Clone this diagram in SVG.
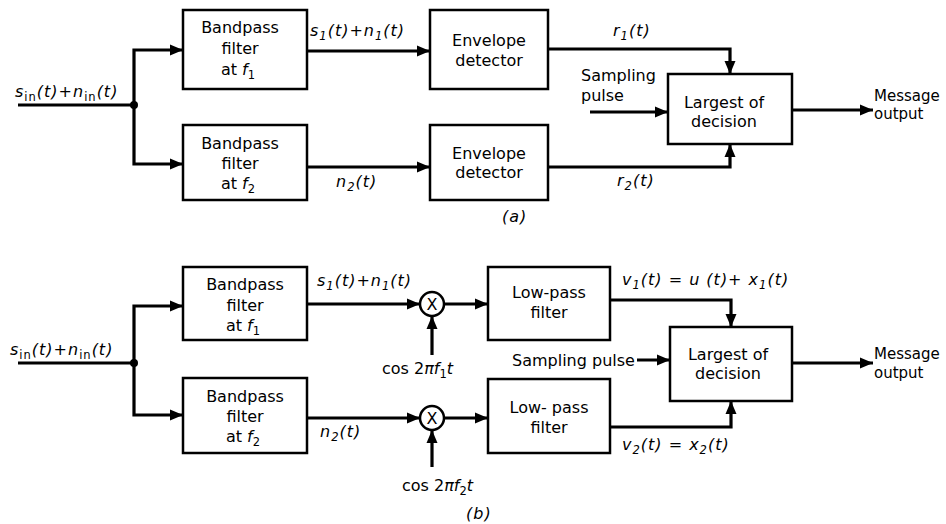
<svg xmlns="http://www.w3.org/2000/svg" width="946" height="524" viewBox="0 0 946 524">
<style>
.box{fill:#fff;stroke:#000;stroke-width:2.5}
.ln{fill:none;stroke:#000;stroke-width:3.2}
.t{font-family:"DejaVu Sans","Liberation Sans",sans-serif;font-size:16px;fill:#000}
.c{text-anchor:middle}
.m{font-family:"DejaVu Sans","Liberation Sans",sans-serif;font-size:16px;font-style:italic;fill:#000;letter-spacing:1px}
.s{font-size:11.5px}
.o{font-size:15px}
</style>
<defs>
<marker id="ah" markerUnits="userSpaceOnUse" markerWidth="14" markerHeight="12" refX="13" refY="6" orient="auto">
<path d="M0,0.5 L13,6 L0,11.5 z" fill="#000"/>
</marker>
</defs>
<rect width="946" height="524" fill="#fff"/>
<g id="connectors">
<path class="ln" d="M18,105 H134"/>
<path class="ln" d="M134,105 V50 H183" marker-end="url(#ah)"/>
<path class="ln" d="M134,105 V164 H183" marker-end="url(#ah)"/>
<path class="ln" d="M307,51 H430" marker-end="url(#ah)"/>
<path class="ln" d="M307,167 H430" marker-end="url(#ah)"/>
<path class="ln" d="M548,49 H730 V74" marker-end="url(#ah)"/>
<path class="ln" d="M548,167 H730 V144" marker-end="url(#ah)"/>
<path class="ln" d="M590,112 H668" marker-end="url(#ah)"/>
<path class="ln" d="M792,110 H873" marker-end="url(#ah)"/>
<circle cx="134" cy="105" r="4" fill="#000"/>
<path class="ln" d="M18,363 H134"/>
<path class="ln" d="M134,363 V306 H183" marker-end="url(#ah)"/>
<path class="ln" d="M134,363 V415 H183" marker-end="url(#ah)"/>
<path class="ln" d="M307,304 H420" marker-end="url(#ah)"/>
<path class="ln" d="M444,304 H488" marker-end="url(#ah)"/>
<path class="ln" d="M432,355 V316" marker-end="url(#ah)"/>
<path class="ln" d="M307,418 H420" marker-end="url(#ah)"/>
<path class="ln" d="M444,418 H488" marker-end="url(#ah)"/>
<path class="ln" d="M432,467 V430" marker-end="url(#ah)"/>
<path class="ln" d="M610,300 H731 V327" marker-end="url(#ah)"/>
<path class="ln" d="M610,427 H731 V401" marker-end="url(#ah)"/>
<path class="ln" d="M637,360 H670" marker-end="url(#ah)"/>
<path class="ln" d="M792,363 H873" marker-end="url(#ah)"/>
<circle cx="134" cy="363" r="4" fill="#000"/>
</g>
<!-- (a) -->
<g id="bpf1a"><rect class="box" x="183" y="10" width="124" height="79"/>
<text class="t c" x="240" y="33">Bandpass</text><text class="t c" x="240" y="54">filter</text><text class="t c" x="238" y="75">at <tspan font-style="italic">f</tspan><tspan class="s" dy="4">1</tspan></text></g>
<g id="bpf2a"><rect class="box" x="183" y="125" width="124" height="75"/>
<text class="t c" x="240" y="149">Bandpass</text><text class="t c" x="240" y="169">filter</text><text class="t c" x="238" y="189">at <tspan font-style="italic">f</tspan><tspan class="s" dy="4">2</tspan></text></g>
<g id="ed1a"><rect class="box" x="430" y="10" width="118" height="79"/>
<text class="t c" x="489" y="46">Envelope</text><text class="t c" x="489" y="66">detector</text></g>
<g id="ed2a"><rect class="box" x="430" y="125" width="118" height="75"/>
<text class="t c" x="489" y="159">Envelope</text><text class="t c" x="489" y="178">detector</text></g>
<g id="deca"><rect class="box" x="668" y="74" width="124" height="70"/>
<text class="t c" x="724" y="108">Largest of</text><text class="t c" x="724" y="127">decision</text></g>
<g id="labels-a">
<text class="m" x="15" y="97">s<tspan class="s" dy="4" font-style="normal">in</tspan><tspan dy="-4">(t)+n</tspan><tspan class="s" dy="4" font-style="normal">in</tspan><tspan dy="-4">(t)</tspan></text>
<text class="m" x="310" y="36">s<tspan class="s" dy="4">1</tspan><tspan dy="-4">(t)+n</tspan><tspan class="s" dy="4">1</tspan><tspan dy="-4">(t)</tspan></text>
<text class="m" x="336" y="187">n<tspan class="s" dy="4">2</tspan><tspan dy="-4">(t)</tspan></text>
<text class="m" x="613" y="36">r<tspan class="s" dy="4">1</tspan><tspan dy="-4">(t)</tspan></text>
<text class="m" x="617" y="186">r<tspan class="s" dy="4">2</tspan><tspan dy="-4">(t)</tspan></text>
<text class="t" x="581" y="81">Sampling</text><text class="t" x="581" y="101">pulse</text>
<text class="t o" x="874" y="101">Message</text><text class="t o" x="874" y="119">output</text>
<text class="m" x="502" y="222">(a)</text>
</g>
<!-- (b) -->
<g id="bpf1b"><rect class="box" x="183" y="267" width="124" height="73"/>
<text class="t c" x="245" y="290">Bandpass</text><text class="t c" x="245" y="311">filter</text><text class="t c" x="243" y="331">at <tspan font-style="italic">f</tspan><tspan class="s" dy="4">1</tspan></text></g>
<g id="bpf2b"><rect class="box" x="183" y="378" width="124" height="75"/>
<text class="t c" x="245" y="402">Bandpass</text><text class="t c" x="245" y="422">filter</text><text class="t c" x="243" y="442">at <tspan font-style="italic">f</tspan><tspan class="s" dy="4">2</tspan></text></g>
<g id="mix1"><circle cx="432" cy="304" r="12" fill="#fff" stroke="#000" stroke-width="2.5"/><text class="t c" x="432" y="310">X</text></g>
<g id="mix2"><circle cx="432" cy="418" r="12" fill="#fff" stroke="#000" stroke-width="2.5"/><text class="t c" x="432" y="424">X</text></g>
<g id="lpf1b"><rect class="box" x="488" y="267" width="122" height="73"/>
<text class="t c" x="549" y="298">Low-pass</text><text class="t c" x="549" y="318">filter</text></g>
<g id="lpf2b"><rect class="box" x="488" y="379" width="122" height="74"/>
<text class="t c" x="549" y="413">Low- pass</text><text class="t c" x="549" y="433">filter</text></g>
<g id="decb"><rect class="box" x="670" y="327" width="122" height="74"/>
<text class="t c" x="728" y="360">Largest of</text><text class="t c" x="728" y="379">decision</text></g>
<g id="labels-b">
<text class="m" x="10" y="355">s<tspan class="s" dy="4" font-style="normal">in</tspan><tspan dy="-4">(t)+n</tspan><tspan class="s" dy="4" font-style="normal">in</tspan><tspan dy="-4">(t)</tspan></text>
<text class="m" x="317" y="286">s<tspan class="s" dy="4">1</tspan><tspan dy="-4">(t)+n</tspan><tspan class="s" dy="4">1</tspan><tspan dy="-4">(t)</tspan></text>
<text class="m" x="320" y="437">n<tspan class="s" dy="4">2</tspan><tspan dy="-4">(t)</tspan></text>
<text class="t" x="382" y="374">cos 2<tspan font-style="italic">πf</tspan><tspan class="s" dy="4">1</tspan><tspan dy="-4" font-style="italic">t</tspan></text>
<text class="t" x="402" y="491">cos 2<tspan font-style="italic">πf</tspan><tspan class="s" dy="4">2</tspan><tspan dy="-4" font-style="italic">t</tspan></text>
<text class="m" x="622" y="285">v<tspan class="s" dy="4">1</tspan><tspan dy="-4">(t) = u (t)+ x</tspan><tspan class="s" dy="4">1</tspan><tspan dy="-4">(t)</tspan></text>
<text class="m" x="622" y="450">v<tspan class="s" dy="4">2</tspan><tspan dy="-4">(t) = x</tspan><tspan class="s" dy="4">2</tspan><tspan dy="-4">(t)</tspan></text>
<text class="t" x="512" y="366">Sampling pulse</text>
<text class="t o" x="874" y="359">Message</text><text class="t o" x="874" y="378">output</text>
<text class="m" x="466" y="519">(b)</text>
</g>
</svg>
